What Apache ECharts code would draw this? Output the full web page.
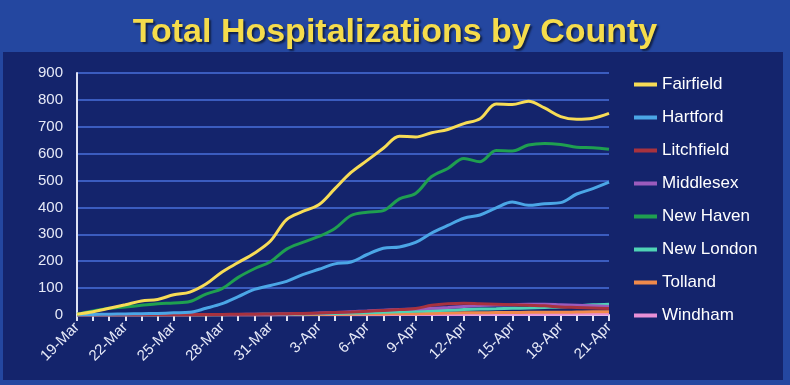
<!DOCTYPE html>
<html>
<head>
<meta charset="utf-8">
<script src="https://cdn.jsdelivr.net/npm/echarts@6/dist/echarts.min.js"></script>
<style>
html,body{margin:0;padding:0;background:#2447a0;}
#chart{width:790px;height:385px;}
</style>
</head>
<body>
<div id="chart"></div>
<script>
var categories = ['19-Mar','20-Mar','21-Mar','22-Mar','23-Mar','24-Mar','25-Mar','26-Mar','27-Mar','28-Mar','29-Mar','30-Mar','31-Mar','1-Apr','2-Apr','3-Apr','4-Apr','5-Apr','6-Apr','7-Apr','8-Apr','9-Apr','10-Apr','11-Apr','12-Apr','13-Apr','14-Apr','15-Apr','16-Apr','17-Apr','18-Apr','19-Apr','20-Apr','21-Apr'];
var yTicks = [0,100,200,300,400,500,600,700,800,900];

var fairfield = [3,12,25,38,52,58,75,85,115,160,195,230,275,355,385,410,470,530,575,620,665,662,678,690,712,730,785,783,795,770,738,728,732,750];
var hartford  = [1,2,3,4,5,6,8,10,25,42,68,95,110,125,150,170,190,197,225,248,253,270,305,333,360,372,398,420,408,414,418,450,470,494];
var litchfield= [0,0,0,0,0,1,1,1,2,2,3,3,4,5,6,7,9,11,14,17,20,24,36,42,44,42,40,38,36,34,30,28,26,24];
var middlesex = [0,0,0,0,0,1,1,1,2,2,2,3,3,4,5,7,9,12,15,18,20,22,25,28,32,35,37,38,40,40,38,36,34,32];
var newHaven  = [3,15,25,30,36,42,45,50,78,98,140,172,198,245,270,292,322,370,382,388,432,452,515,545,582,570,612,610,632,638,634,624,622,616];
var newLondon = [0,0,0,0,0,0,1,1,1,1,2,2,3,3,4,5,6,7,8,10,12,14,16,18,20,22,23,25,26,28,30,34,38,40];
var tolland   = [0,0,0,0,0,0,0,0,0,1,1,1,1,2,2,2,3,3,4,4,5,5,6,7,8,8,9,9,10,10,10,11,12,12];
var windham   = [0,0,0,0,0,0,0,0,0,0,0,0,0,0,0,1,1,1,1,1,2,2,2,2,2,3,3,3,3,3,3,4,4,4];

var seriesNames = ['Fairfield','Hartford','Litchfield','Middlesex','New Haven','New London','Tolland','Windham'];
var seriesData  = [fairfield,hartford,litchfield,middlesex,newHaven,newLondon,tolland,windham];
var seriesColors = ['#f7dc56','#4ba6e6','#a8323e','#9b5bbd','#1f9f50','#4fd3b5','#f08a4b','#e890d6'];

var chart = echarts.init(document.getElementById('chart'), null, {renderer:'canvas'});
var series = seriesNames.map(function(n,i){
  return {
    name:n, type:'line', data:seriesData[i], smooth:0.35, symbol:'none',
    lineStyle:{width:3, color:seriesColors[i]}, itemStyle:{color:seriesColors[i]},
    z: 10 - i
  };
});
series[0].z = 20; series[4].z = 19; series[1].z = 18;

chart.setOption({
  backgroundColor:'#2447a0',
  animation:false,
  graphic:[{
    type:'rect', shape:{x:3,y:52,width:780,height:328}, style:{fill:'#14246c'}, z:-10, silent:true
  }],
  title:{
    text:'Total Hospitalizations by County', left:'center', top:11,
    textStyle:{color:'#f5dc4c', fontSize:34, fontWeight:'bold', fontFamily:'Liberation Sans, Arial, sans-serif',
      textShadowColor:'rgba(0,0,0,0.55)', textShadowOffsetX:2, textShadowOffsetY:2, textShadowBlur:2}
  },
  legend:{
    orient:'vertical', left:634, top:76, padding:0, itemGap:16, itemWidth:23, itemHeight:4, icon:'rect',
    textStyle:{color:'#ffffff', fontSize:17, fontFamily:'Liberation Sans, Arial, sans-serif'},
    data:seriesNames
  },
  grid:{left:77, right:181, top:73, bottom:70, containLabel:false},
  xAxis:{
    type:'category', data:categories, boundaryGap:false,
    axisLine:{lineStyle:{color:'#dfe3f5', width:2}},
    axisTick:{show:true, interval:0, length:6, lineStyle:{color:'#dfe3f5', width:2}},
    axisLabel:{interval:2, rotate:45, color:'#e6e9f7', fontSize:15, margin:10, fontFamily:'Liberation Sans, Arial, sans-serif'},
    splitLine:{show:false}
  },
  yAxis:{
    type:'value', min:0, max:900, interval:100,
    axisLine:{show:true, lineStyle:{color:'#dfe3f5', width:2}},
    axisTick:{show:false},
    axisLabel:{color:'#e6e9f7', fontSize:15, margin:14, fontFamily:'Liberation Sans, Arial, sans-serif',
      formatter:function(v){ return yTicks.indexOf(v) >= 0 ? String(v) : ''; }},
    splitLine:{lineStyle:{color:'#3b5cbf', width:2}}
  },
  series:series
});
</script>
</body>
</html>
